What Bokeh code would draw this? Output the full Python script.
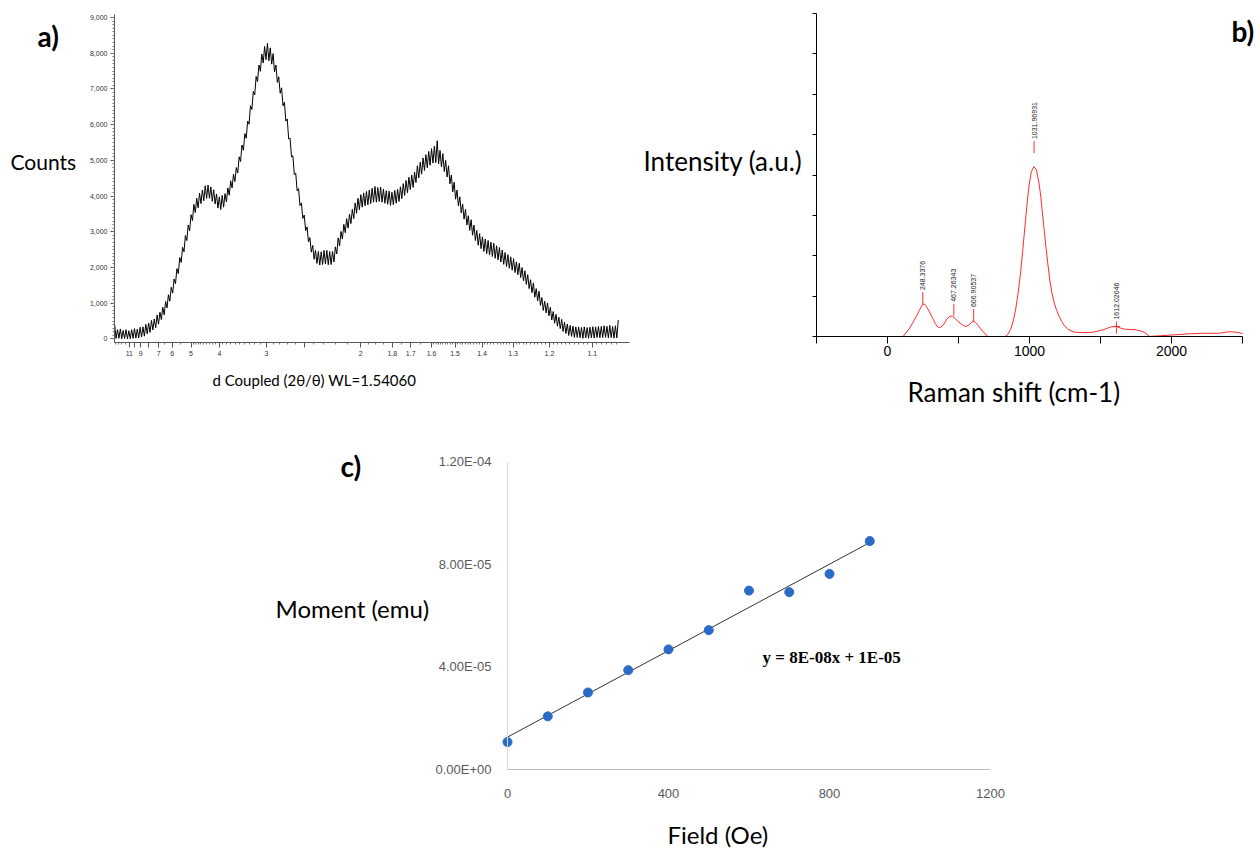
import numpy as np
from bokeh.plotting import figure
from bokeh.models import (Range1d, FixedTicker, SingleIntervalTicker,
                          NumeralTickFormatter, Label, Span)
from bokeh.layouts import row, column
from bokeh.embed import file_html
from bokeh.resources import INLINE

# ---------------- a) XRD pattern (x in 1/d, 1/Angstrom) ----------------
xrd_inv_d_start = 0.065
xrd_inv_d_step = 0.0025
xrd_counts = [
    400, 15, 260, 20, 280, 10, 240, 15, 260, 5, 230, 10, 260, 20, 290, 25,
    280, 30, 330, 55, 340, 80, 410, 145, 450, 185, 520, 255, 560, 315,
    670, 415, 750, 545, 890, 675, 1050, 870, 1240, 1060, 1450, 1285,
    1680, 1550, 1970, 1830, 2280, 2145, 2570, 2440, 2900, 2755, 3190, 3030,
    3480, 3315, 3770, 3540, 3940, 3670, 4080, 3790, 4170, 3870, 4290, 3935,
    4310, 3940, 4260, 3855, 4180, 3780, 4060, 3665, 3980, 3625, 4020, 3690,
    4070, 3835, 4230, 4025, 4430, 4230, 4610, 4410, 4800, 4645, 5100, 4970,
    5430, 5285, 5750, 5620, 6100, 6015, 6530, 6425, 6930, 6830, 7350, 7205,
    7670, 7495, 7980, 7725, 8190, 7820, 8280, 7790, 8150, 7695, 7990, 7480,
    7670, 7180, 7340, 6880, 7030, 6530, 6630, 6100, 6160, 5600, 5620, 5095,
    5130, 4605, 4640, 4150, 4210, 3735, 3810, 3375, 3470, 3030, 3140, 2720,
    2840, 2430, 2620, 2230, 2480, 2115, 2450, 2070, 2440, 2085, 2480, 2100,
    2480, 2080, 2450, 2085, 2450, 2155, 2580, 2380, 2830, 2605, 3010, 2800,
    3210, 2975, 3370, 3105, 3500, 3230, 3630, 3370, 3810, 3520, 3940, 3620,
    4040, 3690, 4090, 3730, 4130, 3755, 4170, 3790, 4220, 3830, 4270, 3830,
    4240, 3850, 4250, 3830, 4200, 3800, 4150, 3770, 4140, 3740, 4110, 3760,
    4160, 3800, 4190, 3850, 4260, 3930, 4350, 4020, 4440, 4095, 4530, 4185,
    4590, 4245, 4670, 4380, 4850, 4510, 4950, 4615, 5070, 4720, 5160, 4795,
    5250, 4865, 5330, 4925, 5400, 4940, 5550, 4905, 5280, 4820, 5190, 4690,
    5000, 4535, 4850, 4345, 4590, 4120, 4390, 3915, 4170, 3725, 3980, 3530,
    3780, 3355, 3630, 3190, 3450, 3040, 3340, 2905, 3190, 2755, 3040, 2625,
    2950, 2530, 2860, 2450, 2800, 2390, 2760, 2350, 2710, 2310, 2680, 2260,
    2610, 2215, 2560, 2155, 2490, 2090, 2420, 2030, 2360, 1980, 2300, 1925,
    2250, 1860, 2160, 1800, 2120, 1720, 2000, 1625, 1910, 1530, 1800, 1410,
    1660, 1295, 1570, 1170, 1410, 1065, 1340, 940, 1160, 800, 1060, 730,
    1010, 650, 890, 530, 770, 440, 690, 360, 610, 290, 550, 210,
    470, 155, 420, 100, 380, 75, 360, 45, 340, 45, 340, 35,
    320, 20, 340, 30, 320, 20, 330, 32, 345, 27, 340, 42,
    355, 37, 350, 40, 370, 47, 355, 32, 380, 40, 350, 25,
    370, 30, 530]
d_tick_labels = ["11", "9", "7", "6", "5", "4", "3", "2", "1.8", "1.7",
                 "1.6", "1.5", "1.4", "1.3", "1.2", "1.1"]
d_tick_unlabeled = [10, 8, 2.5]

# ---------------- b) Raman spectrum ----------------
raman_shift = [-500, -300, -100, 0, 60, 110, 157, 200, 225, 247, 262, 275, 293,
               311, 335, 358, 375, 394, 418, 441, 458, 476, 494, 512, 535, 554,
               578, 602, 618, 635, 656, 677, 708, 740, 780, 810, 831, 850, 866,
               884, 902, 920, 937, 953, 968, 982, 996, 1013, 1032, 1048, 1067,
               1080, 1091, 1103, 1115, 1129, 1143, 1158, 1174, 1192, 1209, 1227,
               1245, 1268, 1292, 1315, 1339, 1434, 1505, 1545, 1576, 1613, 1640,
               1670, 1741, 1780, 1812, 1847, 1882, 1976, 2094, 2212, 2330, 2413,
               2472, 2500]
raman_intensity = [-0.6, -0.55, -0.45, -0.35, -0.15, 0.0, 0.21, 0.48, 0.65, 0.80,
                   0.80, 0.74, 0.63, 0.50, 0.33, 0.22, 0.23, 0.29, 0.43, 0.51,
                   0.50, 0.45, 0.38, 0.33, 0.27, 0.25, 0.30, 0.38, 0.35, 0.29,
                   0.19, 0.10, 0.0, -0.10, -0.14, -0.08, 0.0, 0.07, 0.17, 0.36,
                   0.66, 1.08, 1.57, 2.15, 2.73, 3.25, 3.72, 4.09, 4.21, 4.13,
                   3.80, 3.45, 3.06, 2.65, 2.23, 1.80, 1.40, 1.08, 0.83, 0.64,
                   0.50, 0.37, 0.27, 0.19, 0.14, 0.11, 0.10, 0.10, 0.15, 0.20,
                   0.24, 0.25, 0.21, 0.18, 0.17, 0.14, 0.10, 0.0, 0.01, 0.03,
                   0.06, 0.08, 0.08, 0.12, 0.10, 0.07]
peak_labels = ["248.3376", "467.26343", "606.90537", "1031.96931", "1612.02046"]
peak_height = [0.80, 0.51, 0.38, 4.21, 0.25]

# ---------------- c) Moment vs field ----------------
field_oe = [0, 100, 200, 300, 400, 500, 600, 700, 800, 900]
moment_emu = [1.07e-5, 2.07e-5, 3.00e-5, 3.87e-5, 4.68e-5, 5.43e-5,
              6.97e-5, 6.91e-5, 7.62e-5, 8.90e-5]
moment_ticks = [0, 4e-5, 8e-5, 1.2e-4]
moment_tick_labels = ["0.00E+00", "4.00E-05", "8.00E-05", "1.20E-04"]
field_ticks = [0, 400, 800, 1200]
equation_text = "y = 8E-08x + 1E-05"

LABEL_FONT = "Lato"
PAGE_W = 1259
PAGE_H = 848


def make_label(x, y, text, size, font=LABEL_FONT, style="normal", align="left",
               color="black", angle=0.0):
    return Label(x=x, y=y, text=text, text_font=font, text_font_size=f"{size}px",
                 text_font_style=style, text_align=align, text_baseline="middle",
                 text_color=color, angle=angle)


def add_text(p, frame, px, py, text, size, **kw):
    """Text inside a plot frame, given page-pixel coordinates."""
    L, R, T, B, x0, x1, y0, y1 = frame
    x = x0 + (px - L) / (R - L) * (x1 - x0)
    y = y0 + (B - py) / (B - T) * (y1 - y0)
    p.add_layout(make_label(x, y, text, size, **kw))


def text_fig(left, top, width, height, items):
    """A blank figure holding only texts; items use page-pixel coordinates."""
    f = figure(width=width, height=height, x_range=Range1d(0, width),
               y_range=Range1d(0, height), output_backend="svg",
               toolbar_location=None, x_axis_type=None, y_axis_type=None,
               min_border=0, title=None)
    f.outline_line_color = None
    f.background_fill_color = None
    f.border_fill_color = None
    for px, py, text, size, kw in items:
        f.add_layout(make_label(px - left, top + height - py, text, size, **kw))
    return f


def solo(fig):
    """Wrap a figure so that its frame is not aligned with its neighbours."""
    return column(fig)


ROW1_H = 372
ROW2_TOP = 410
ROW2_H = 400

# ======================= panel a =======================
A_frame = (114, 629, 14, 342, 0.06469, 0.97487, -98, 9084.5)
pa = figure(width=640 - 84, height=ROW1_H, title=None,
            x_range=Range1d(A_frame[4], A_frame[5]),
            y_range=Range1d(A_frame[6], A_frame[7]),
            output_backend="svg", toolbar_location=None,
            min_border_left=114 - 84, min_border_right=640 - 629,
            min_border_top=14, min_border_bottom=ROW1_H - 342)
pa.outline_line_color = None
pa.grid.visible = False
pa.background_fill_color = None

xrd_inv_d = [round(xrd_inv_d_start + i * xrd_inv_d_step, 5) for i in range(len(xrd_counts))]
pa.line(xrd_inv_d, xrd_counts, color="black", line_width=1)

q_major = [1.0 / float(s) for s in d_tick_labels] + [1.0 / d for d in d_tick_unlabeled]
overrides = {1.0 / float(s): s for s in d_tick_labels}
overrides.update({1.0 / d: "" for d in d_tick_unlabeled})
d_minor = [15, 14, 13, 12, 6.5, 5.5]
d_minor += [round(4 + 0.1 * k, 2) for k in range(1, 10)]
d_minor += [round(3 + 0.1 * k, 2) for k in range(1, 10)]
d_minor += [round(2 + 0.1 * k, 2) for k in range(1, 10) if k != 5]
d_minor += [1.95, 1.9, 1.85, 1.75, 1.65]
d_minor += [round(1.05 + 0.01 * k, 2) for k in range(0, 55)
            if round(1.05 + 0.01 * k, 2) not in (1.1, 1.2, 1.3, 1.4, 1.5)]
pa.xaxis.ticker = FixedTicker(ticks=q_major, minor_ticks=[1.0 / d for d in d_minor])
pa.xaxis.major_label_overrides = overrides
pa.yaxis.ticker = SingleIntervalTicker(interval=1000, num_minor_ticks=10)
pa.yaxis.formatter = NumeralTickFormatter(format="0,0")
for ax in (pa.xaxis[0], pa.yaxis[0]):
    ax.axis_line_color = "#555555"
    ax.major_tick_line_color = "#555555"
    ax.minor_tick_line_color = "#777777"
    ax.major_tick_in = 0
    ax.minor_tick_in = 0
    ax.major_tick_out = 4
    ax.minor_tick_out = 2
    ax.major_label_text_font = "Liberation Sans"
    ax.major_label_text_font_size = "7px"
    ax.major_label_text_color = "#333333"
    ax.major_label_standoff = 3
pa.xaxis.major_tick_out = 5

ta = text_fig(0, 0, 84, ROW1_H, [
    (37, 35, "a)", 28, dict(style="bold")),
    (10, 161, "Counts", 21, {}),
])

# ======================= panel b =======================
b_units_per_px = 3000.0 / 426.0
B_left = 810
B_frame = (816, PAGE_W, 13, 336, -500, 2500 + (PAGE_W - 1242) * b_units_per_px, 0, 8)
pb = figure(width=PAGE_W - B_left, height=ROW1_H, title=None,
            x_range=Range1d(B_frame[4], B_frame[5]), y_range=Range1d(0, 8),
            output_backend="svg", toolbar_location=None,
            min_border_left=816 - B_left, min_border_right=0,
            min_border_top=13, min_border_bottom=ROW1_H - 336)
pb.outline_line_color = None
pb.grid.visible = False
pb.background_fill_color = None
pb.line(raman_shift, raman_intensity, color="#ff2b2b", line_width=1)

peak_pos = [float(s) for s in peak_labels]
marker_gap = [0.0, 0.0, 0.0, 0.33, -0.18]
marker_len = 0.3
m_y0 = [h + g for h, g in zip(peak_height, marker_gap)]
m_y1 = [y + marker_len for y in m_y0]
pb.segment(x0=peak_pos, y0=m_y0, x1=peak_pos, y1=m_y1, color="#ff2b2b", line_width=1)
pb.scatter([peak_pos[4]], [peak_height[4]], marker="dash", size=7,
           line_color="#ff2b2b", line_width=1)
for x, ytop, txt in zip(peak_pos, m_y1, peak_labels):
    pb.add_layout(make_label(x, ytop + 0.05, txt, 7, font="Liberation Sans",
                             color="#222222", angle=np.pi / 2))

pb.xaxis.ticker = FixedTicker(ticks=[-500, 0, 500, 1000, 1500, 2000, 2500])
pb.xaxis.major_label_overrides = {-500: "", 500: "", 1500: "", 2500: ""}
pb.xaxis.bounds = (-500, 2500)
pb.yaxis.ticker = FixedTicker(ticks=list(range(0, 9)))
pb.yaxis.major_label_overrides = {i: "" for i in range(0, 9)}
for ax in (pb.xaxis[0], pb.yaxis[0]):
    ax.axis_line_color = "black"
    ax.major_tick_line_color = "black"
    ax.minor_tick_line_color = None
    ax.major_tick_in = 0
    ax.major_label_text_font = "Liberation Sans"
    ax.major_label_text_font_size = "14px"
    ax.major_label_text_color = "black"
pb.xaxis.major_tick_out = 7
pb.xaxis.major_label_standoff = 2
pb.yaxis.major_tick_out = 4
pb.yaxis.major_label_standoff = 0

add_text(pb, B_frame, 1231, 30, "b)", 28, style="bold")

tb = text_fig(640, 0, B_left - 640, ROW1_H, [
    (643, 160, "Intensity (a.u.)", 26, {}),
])

# strip under panels a and b
strip1 = text_fig(0, ROW1_H, PAGE_W, ROW2_TOP - ROW1_H, [
    (212, 379, "d Coupled (2θ/θ) WL=1.54060", 15, {}),
    (907, 391, "Raman shift (cm-1)", 26, {}),
])

# ======================= panel c =======================
c_units_per_px = 1200.0 / 483.0
C_fig_left = 430
C_left = 501
C_frame = (C_left, 990, 461, 769, -(507 - C_left) * c_units_per_px, 1200, 0, 1.2e-4)
pc = figure(width=1010 - C_fig_left, height=ROW2_H, title=None,
            x_range=Range1d(C_frame[4], 1200), y_range=Range1d(0, 1.2e-4),
            output_backend="svg", toolbar_location=None,
            min_border_left=C_left - C_fig_left, min_border_right=20,
            min_border_top=461 - ROW2_TOP, min_border_bottom=ROW2_TOP + ROW2_H - 769)
pc.outline_line_color = None
pc.grid.visible = False
pc.background_fill_color = None

pc.add_layout(Span(location=0, dimension="height", line_color="#d9d9d9", line_width=1))
slope, intercept = np.polyfit(field_oe, moment_emu, 1)
fit_x = [min(field_oe), max(field_oe)]
fit_y = [slope * x + intercept for x in fit_x]
pc.line(fit_x, fit_y, color="#333333", line_width=1)
pc.scatter(field_oe, moment_emu, size=9, color="#2a6ac8")

pc.xaxis.ticker = FixedTicker(ticks=field_ticks)
pc.xaxis.bounds = (0, 1200)
pc.yaxis.ticker = FixedTicker(ticks=moment_ticks)
pc.yaxis.major_label_overrides = dict(zip(moment_ticks, moment_tick_labels))
for ax in (pc.xaxis[0], pc.yaxis[0]):
    ax.major_tick_line_color = None
    ax.minor_tick_line_color = None
    ax.major_tick_out = 0
    ax.major_tick_in = 0
    ax.major_label_text_font = "Liberation Sans"
    ax.major_label_text_font_size = "13px"
    ax.major_label_text_color = "#595959"
pc.yaxis.axis_line_color = None
pc.xaxis.axis_line_color = "#bfbfbf"
pc.yaxis.major_label_standoff = 10
pc.xaxis.major_label_standoff = 19

add_text(pc, C_frame, 762, 657, equation_text, 17, font="Liberation Serif", style="bold")

tc = text_fig(0, ROW2_TOP, C_fig_left, ROW2_H, [
    (340, 465, "c)", 28, dict(style="bold")),
    (275, 608, "Moment (emu)", 24, {}),
])

strip2_top = ROW2_TOP + ROW2_H
strip2 = text_fig(0, strip2_top, PAGE_W, PAGE_H - strip2_top, [
    (667, 834, "Field (Oe)", 24, {}),
])

layout = column(
    row(solo(ta), solo(pa), solo(tb), solo(pb)),
    solo(strip1),
    row(solo(tc), solo(pc)),
    solo(strip2),
)
open("out.html", "w").write(file_html(layout, INLINE))
